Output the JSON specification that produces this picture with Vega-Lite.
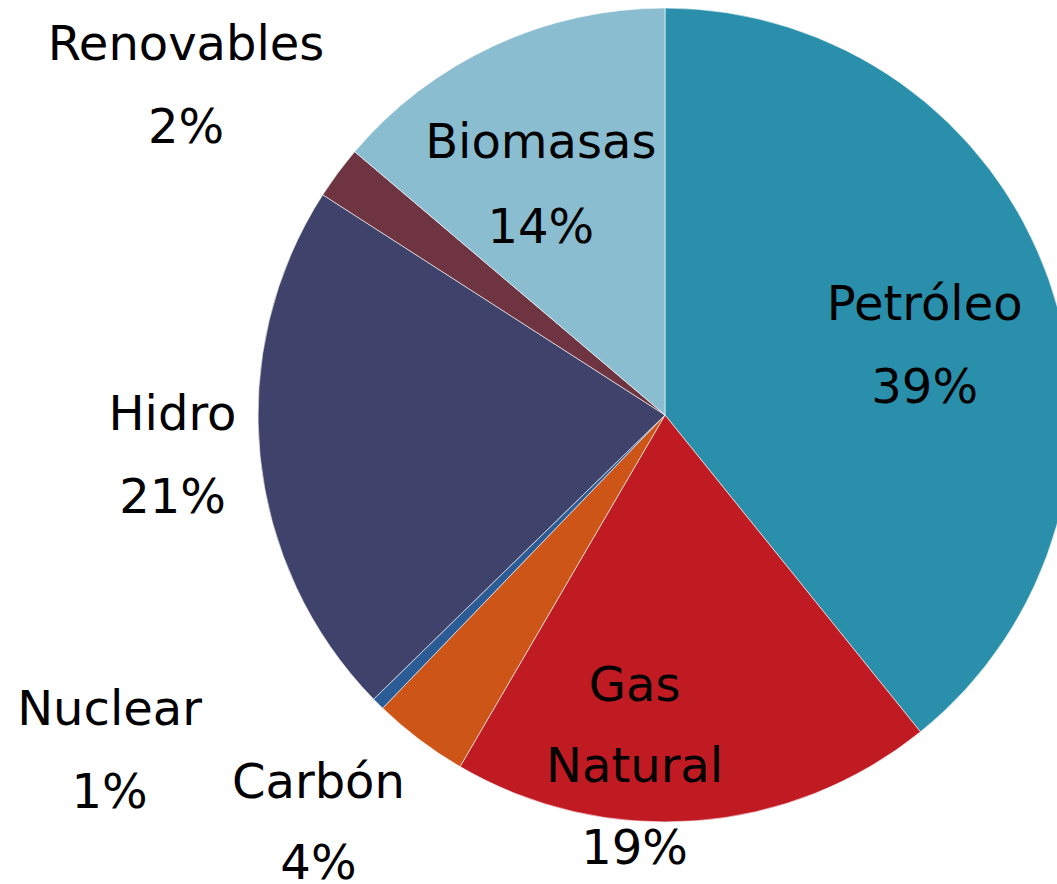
{
  "$schema": "https://vega.github.io/schema/vega-lite/v6.json",
  "width": 1057,
  "height": 884,
  "autosize": "none",
  "padding": 0,
  "background": "white",
  "config": {"view": {"stroke": null}, "text": {"font": "DejaVu Sans", "fontSize": 48, "lineBreak": "\n", "baseline": "middle", "align": "center", "color": "#000000"}},
  "data": {
    "values": [
      {"cat": "Petróleo", "orden": 1, "valor": 39.2, "label": "Petróleo\n39%"},
      {"cat": "Gas Natural", "orden": 2, "valor": 19.2, "label": "Gas\nNatural\n19%"},
      {"cat": "Carbón", "orden": 3, "valor": 3.8, "label": "Carbón\n4%"},
      {"cat": "Nuclear", "orden": 4, "valor": 0.5, "label": "Nuclear\n1%"},
      {"cat": "Hidro", "orden": 5, "valor": 21.4, "label": "Hidro\n21%"},
      {"cat": "Renovables", "orden": 6, "valor": 2.1, "label": "Renovables\n2%"},
      {"cat": "Biomasas", "orden": 7, "valor": 13.8, "label": "Biomasas\n14%"}
    ]
  },
  "encoding": {
    "theta": {"field": "valor", "type": "quantitative", "stack": true},
    "order": {"field": "orden", "type": "quantitative"}
  },
  "layer": [
    {
      "mark": {"type": "arc", "radius": 407, "xOffset": 136.5, "yOffset": -27, "stroke": "#ffffff", "strokeWidth": 0.6},
      "encoding": {
        "color": {
          "field": "cat", "type": "nominal", "legend": null,
          "scale": {
            "domain": ["Petróleo", "Gas Natural", "Carbón", "Nuclear", "Hidro", "Renovables", "Biomasas"],
            "range": ["#2A8FAB", "#C01A23", "#CC5517", "#2B5C96", "#3F426A", "#6E3441", "#8ABDD0"]
          }
        }
      }
    },
    {
      "mark": {"type": "text", "radius": 269, "xOffset": 136.5, "yOffset": -27, "dx": 6, "dy": -19, "lineHeight": 83},
      "encoding": {"text": {"condition": {"test": "datum.cat === 'Petróleo'", "field": "label"}, "value": ""}}
    },
    {
      "mark": {"type": "text", "radius": 353, "xOffset": 136.5, "yOffset": -27, "dx": -57, "dy": -80, "lineHeight": 81.5},
      "encoding": {"text": {"condition": {"test": "datum.cat === 'Gas Natural'", "field": "label"}, "value": ""}}
    },
    {
      "mark": {"type": "text", "radius": 535, "xOffset": 136.5, "yOffset": -27, "dx": -24, "dy": -58, "lineHeight": 81},
      "encoding": {"text": {"condition": {"test": "datum.cat === 'Carbón'", "field": "label"}, "value": ""}}
    },
    {
      "mark": {"type": "text", "radius": 649, "xOffset": 136.5, "yOffset": -27, "dx": -98, "dy": -164, "lineHeight": 83},
      "encoding": {"text": {"condition": {"test": "datum.cat === 'Nuclear'", "field": "label"}, "value": ""}}
    },
    {
      "mark": {"type": "text", "radius": 495, "xOffset": 136.5, "yOffset": -27, "dx": 0, "dy": -49, "lineHeight": 83},
      "encoding": {"text": {"condition": {"test": "datum.cat === 'Hidro'", "field": "label"}, "value": ""}}
    },
    {
      "mark": {"type": "text", "radius": 580, "xOffset": 136.5, "yOffset": -27, "dx": -13, "dy": -24, "lineHeight": 83},
      "encoding": {"text": {"condition": {"test": "datum.cat === 'Renovables'", "field": "label"}, "value": ""}}
    },
    {
      "mark": {"type": "text", "radius": 260, "xOffset": 136.5, "yOffset": -27, "dx": -15, "dy": -35, "lineHeight": 85},
      "encoding": {"text": {"condition": {"test": "datum.cat === 'Biomasas'", "field": "label"}, "value": ""}}
    }
  ]
}
